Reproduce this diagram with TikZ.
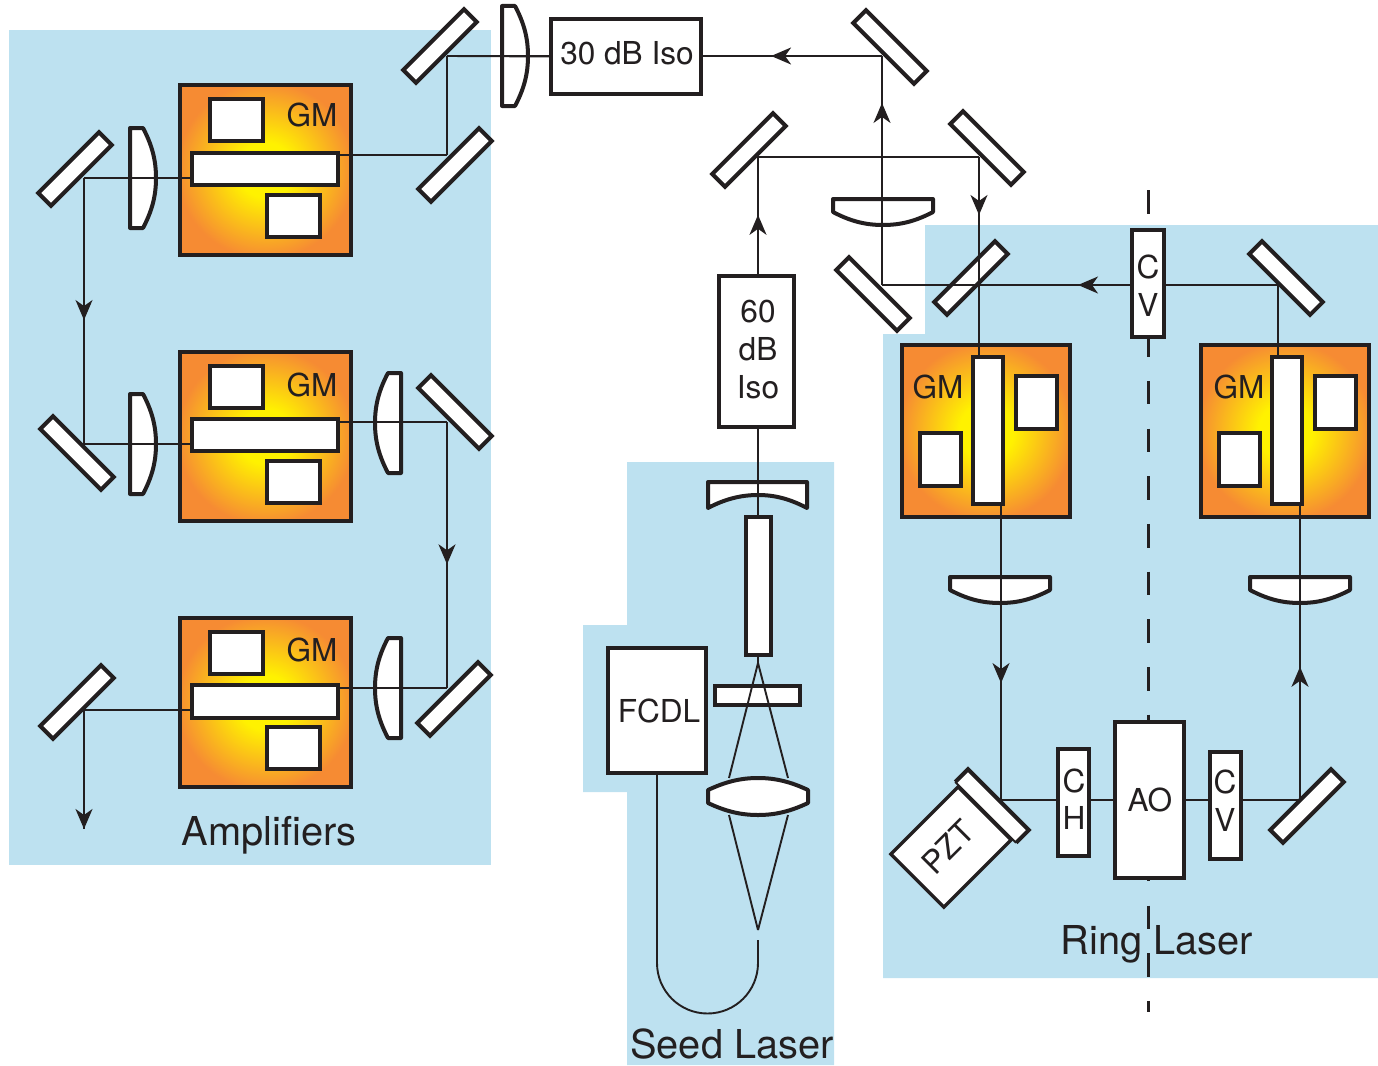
\documentclass[tikz,border=0pt]{standalone}
\usepackage{fontspec}
\setmainfont{TeX Gyre Heros}
\usetikzlibrary{arrows.meta,decorations.markings}
\definecolor{ink}{HTML}{231F20}
\definecolor{paneblue}{HTML}{BDE1F0}
\definecolor{gmorange}{HTML}{F68B33}
\definecolor{gmyellow}{HTML}{FFF200}
\pgfdeclareradialshading{gmglow}{\pgfpoint{0bp}{0bp}}{color(0bp)=(gmyellow); color(8bp)=(gmyellow); color(26bp)=(gmorange); color(50bp)=(gmorange)}
\newcommand{\bx}[7][]{%
  \pgfmathsetmacro{\bxcx}{(#4+#6-0.7)/2}\pgfmathsetmacro{\bxcy}{(#5+#7)/2}%
  \pgfmathsetmacro{\bxw}{#6-#4-0.7}\pgfmathsetmacro{\bxh}{#7-#5}%
  \node[#2,minimum width=\bxw pt,minimum height=\bxh pt,#1] (#3) at (\bxcx,\bxcy) {};}
\tikzset{
  x=1pt,y=-1pt,
  part/.style={draw=ink,line width=4pt,fill=white,rectangle,inner sep=0pt,outer sep=0pt,line join=miter},
  gmbox/.style={draw=ink,line width=4pt,rectangle,inner sep=0pt,outer sep=0pt,shade,shading=gmglow},
  mirror/.style={part,line width=4pt,minimum width=86pt,minimum height=18pt},
  mirrorup/.style={mirror,rotate=45},
  mirrordown/.style={mirror,rotate=-45},
  beam/.style={draw=ink,line width=1.9pt},
  flow/.style={beam,postaction={decorate},decoration={markings,mark=at position #1 with {\arrow[ink]{Stealth[length=20pt,width=17pt,inset=6pt]}}}},
  lensline/.style={draw=ink,fill=white,line width=4pt,line join=round},
  lbl/.style={text=ink,font=\fontsize{31.6}{32}\selectfont,inner sep=0pt},
  gmlbl/.style={text=ink,font=\fontsize{31.5}{32}\selectfont,inner sep=0pt},
  biglbl/.style={text=ink,font=\fontsize{39.8}{40}\selectfont,inner sep=0pt},
  lens/.pic={\path[lensline] (-13,-50) -- (0,-50) .. controls (9,-33) and (13,-18) .. (13,0) .. controls (13,18) and (9,33) .. (0,50) -- (-13,50) -- cycle;}
}
\begin{document}
\begin{tikzpicture}
\useasboundingbox (0,0) rectangle (1378,1065);
% panels
\fill[paneblue] (9,30) rectangle (491,865);
\fill[paneblue] (627,462) -- (834,462) -- (834,1065) -- (627,1065) -- (627,792) -- (583,792) -- (583,625) -- (627,625) -- cycle;
\fill[paneblue] (925,225) -- (1378,225) -- (1378,978) -- (883,978) -- (883,334) -- (925,334) -- cycle;
% axis
\coordinate (axisT) at (1148,190);
\coordinate (axisB) at (1148,1012);
\draw[ink,line width=3pt,dash pattern=on 23.6pt off 24.1pt] (axisT) -- (axisB);
% gain modules
\bx{gmbox}{gmA}{180}{85}{352}{255}
\bx{gmbox}{gmB}{180}{352}{352}{521}
\bx{gmbox}{gmC}{180}{618}{352}{787}
\bx{gmbox}{gmD}{902}{345}{1071}{517}
\bx{gmbox}{gmE}{1201}{345}{1370}{517}
% mirrors
\node[mirrorup] (mA) at (75,169) {};
\node[mirrorup] (mB) at (440,46) {};
\node[mirrorup] (mC) at (455,165) {};
\node[mirrordown] (mD) at (77,453) {};
\node[mirrordown] (mE) at (455,412) {};
\node[mirrorup] (mF) at (77,702) {};
\node[mirrorup] (mG) at (454,699) {};
\node[mirrordown] (mH) at (890,47) {};
\node[mirrorup] (mI) at (749,150) {};
\node[mirrordown] (mJ) at (987,148) {};
\node[mirrordown] (mK) at (873,294) {};
\node[mirrorup] (mL) at (971,278) {};
\node[mirrordown] (mM) at (1286,278) {};
\node[mirrorup] (mN) at (1307,806) {};
% PZT
\node[part,line width=3.4pt,minimum width=95pt,minimum height=75pt,rotate=45] (pzt) at (951,847) {};
\node[mirrordown,draw=none] (plate) at (992,806) {};
\draw[ink,line width=4pt,line join=miter] (plate.south west) -- (plate.north west) -- (plate.north east) -- (plate.south east);
\draw[ink,line width=2pt] (plate.south west) -- (plate.south east);
\node[lbl,rotate=45] (pztl) at (948,847) {PZT};
% lenses
\pic at (143,178) {lens};
\pic at (515,56) {lens};
\pic at (143,444) {lens};
\pic[xscale=-1] at (388,423) {lens};
\pic[xscale=-1] at (388,688) {lens};
\pic[rotate=-90] at (883,212) {lens};
\pic[rotate=-90] at (1000,590) {lens};
\pic[rotate=-90] at (1300,590) {lens};
\path[lensline] (708,482) -- (807,482) -- (807,508) .. controls (790,499) and (775,495) .. (758,495) .. controls (741,495) and (725,499) .. (708,508) -- cycle;
\path[lensline] (708,790) .. controls (725,782) and (740,778) .. (758,778) .. controls (776,778) and (791,782) .. (808,790) -- (808,803) .. controls (791,811) and (776,815) .. (758,815) .. controls (740,815) and (725,811) .. (708,803) -- cycle;
% beam corner points
\coordinate (c1) at (447,56);
\coordinate (c2) at (447,155);
\coordinate (c3) at (84,178);
\coordinate (c4) at (84,444);
\coordinate (c5) at (447,422);
\coordinate (c6) at (447,688);
\coordinate (c7) at (84,710);
\coordinate (c8) at (84,829);
\coordinate (c9) at (882,56);
\coordinate (c10) at (882,285);
\coordinate (c11) at (758,157);
\coordinate (c12) at (979,157);
\coordinate (c13) at (1278,285);
\coordinate (c14) at (1001,800);
\coordinate (c15) at (1300,800);
\coordinate (ap) at (758,663);
\coordinate (apb) at (758,930);
\coordinate (fibA) at (758,940);
\coordinate (triL) at (729,778);
\coordinate (triR) at (788,778);
\coordinate (triLb) at (729,815);
\coordinate (triRb) at (788,815);
% amplifier beams
\draw[beam] (c1) -- (c2);
\draw[beam] (c2) -- (339,155);
\draw[beam] (c3) -- (191,178);
\draw[flow=0.534] (c3) -- (c4);
\draw[beam] (c4) -- (191,444);
\draw[beam] (339,422) -- (c5);
\draw[flow=0.535] (c5) -- (c6);
\draw[beam] (339,688) -- (c6);
\draw[beam] (c7) -- (191,710);
\draw[flow=1] (c7) -- (c8);
% central beams
\draw[flow=0.255] (c9) -- (c1);
\draw[flow=0.795] (c10) -- (c9);
\draw[flow=0.51] (758,275) -- (c11);
\draw[beam] (c11) -- (c12);
\draw[flow=0.29] (c12) -- (979,357);
\draw[flow=0.505] (c13) -- (c10);
\draw[beam] (c13) -- (1278,357);
\draw[beam] (758,427) -- (758,517);
% ring beams
\draw[flow=0.605] (1001,504) -- (c14);
\draw[beam] (c14) -- (c15);
\draw[flow=0.45] (c15) -- (1300,504);
% seed optics
\bx{part}{plateS}{715}{686}{801}{705}
\draw[beam] (ap) -- (triL);
\draw[beam] (ap) -- (triR);
\draw[beam] (triLb) -- (apb);
\draw[beam] (triRb) -- (apb);
\draw[beam] (758,655) -- (ap);
% inner parts
\bx{part}{a1}{210}{99}{264}{141}
\bx{part}{a2}{192}{153}{339}{185}
\bx{part}{a3}{267}{195}{321}{237}
\bx{part}{b1}{210}{366}{264}{408}
\bx{part}{b2}{192}{419}{339}{451}
\bx{part}{b3}{267}{461}{321}{503}
\bx{part}{c1b}{210}{632}{264}{674}
\bx{part}{c2b}{192}{685}{339}{718}
\bx{part}{c3b}{267}{727}{321}{769}
\bx{part}{d1}{973}{357}{1004}{504}
\bx{part}{d2}{1016}{376}{1058}{429}
\bx{part}{d3}{920}{433}{962}{486}
\bx{part}{e1}{1272}{357}{1303}{504}
\bx{part}{e2}{1315}{376}{1357}{429}
\bx{part}{e3}{1219}{433}{1261}{486}
\bx{part}{sbar}{746}{517}{772}{655}
% labelled boxes
\bx{part}{iso30}{551}{19}{702}{94}
\bx{part}{iso60}{719}{276}{795}{427}
\bx{part}{fcdl}{608}{648}{707}{773}
\bx{part}{cv1}{1132}{230}{1165}{337}
\bx{part}{ch}{1058}{749}{1090}{856}
\bx{part}{ao}{1115}{722}{1185}{878}
\bx{part}{cv2}{1210}{752}{1242}{859}
\draw[beam] (c1) -- (iso30.west);
% fiber
\draw[draw=ink,line width=1.9pt] (657,773) -- (657,963) arc[start angle=180,end angle=0,x radius=50.5pt,y radius=-50.5pt] -- (fibA);
% text
\node[lbl] (t30) at (627,53) {30 dB Iso};
\node[lbl] (t60a) at (758,312) {60};
\node[lbl] (t60b) at (758,349) {dB};
\node[lbl] (t60c) at (758,387) {Iso};
\node[gmlbl] (g1) at (312,115) {GM};
\node[gmlbl] (g2) at (312,385) {GM};
\node[gmlbl] (g3) at (312,650) {GM};
\node[gmlbl] (g4) at (938,387) {GM};
\node[gmlbl] (g5) at (1239,387) {GM};
\node[lbl] (tfc) at (659,711) {FCDL};
\node[lbl] (cva) at (1148,267) {C};
\node[lbl] (cvb) at (1148,305) {V};
\node[lbl] (cha) at (1074,781) {C};
\node[lbl] (chb) at (1074,818) {H};
\node[lbl] (tao) at (1150,800) {AO};
\node[lbl] (cvc) at (1225,782) {C};
\node[lbl] (cvd) at (1225,820) {V};
\node[biglbl] (amp) at (269,835) {Amplifiers};
\node[biglbl] (seed) at (732,1044) {Seed Laser};
\node[biglbl] (ring) at (1157,944) {Ring Laser};
\end{tikzpicture}
\end{document}
